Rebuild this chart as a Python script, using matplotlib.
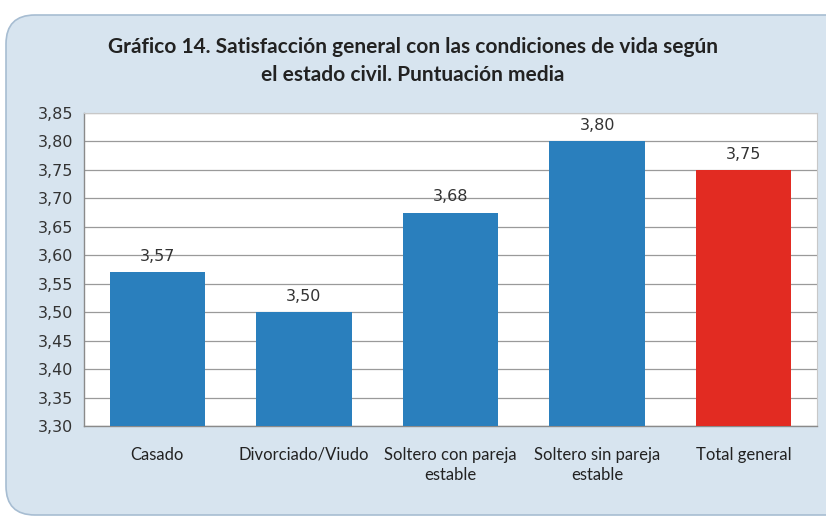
import matplotlib
matplotlib.use("Agg")
import matplotlib.pyplot as plt
from matplotlib.patches import FancyBboxPatch
from matplotlib.ticker import FuncFormatter

categories = ["Casado", "Divorciado/Viudo", "Soltero con pareja\nestable",
              "Soltero sin pareja\nestable", "Total general"]
values = [3.57, 3.50, 3.675, 3.80, 3.75]
labels = ["3,57", "3,50", "3,68", "3,80", "3,75"]
colors = ["#2a7fbd", "#2a7fbd", "#2a7fbd", "#2a7fbd", "#e22b22"]
yticks = [3.30, 3.35, 3.40, 3.45, 3.50, 3.55, 3.60, 3.65, 3.70, 3.75, 3.80, 3.85]

W, H = 826, 523
fig = plt.figure(figsize=(W / 100, H / 100), dpi=100)
fig.patch.set_facecolor("white")

panel = FancyBboxPatch((6 / W, 8 / H), (W + 40) / W, 500 / H,
                       boxstyle="round,pad=0,rounding_size=0.035",
                       transform=fig.transFigure, facecolor="#d7e4ef",
                       edgecolor="#a7bdd2", linewidth=1.2, zorder=-5,
                       mutation_aspect=W / H)
fig.patches.append(panel)

left, right, top, bottom = 84, 817, 113, 426
ax = fig.add_axes([left / W, 1 - bottom / H, (right - left) / W, (bottom - top) / H])
ax.set_zorder(5)
ax.set_facecolor("white")
x = range(len(categories))
bars = ax.bar(x, values, width=0.65, color=colors, zorder=3)
ax.set_ylim(3.30, 3.85)
ax.set_xlim(-0.5, len(categories) - 0.5)
ax.set_yticks(yticks)
ax.yaxis.set_major_formatter(FuncFormatter(lambda v, p: f"{v:.2f}".replace(".", ",")))
ax.grid(axis="y", color="#9a9a9a", linewidth=0.9, zorder=0)
ax.set_axisbelow(True)
ax.tick_params(axis="y", length=0, pad=8, labelsize=11.5, labelcolor="#333333")
ax.tick_params(axis="x", length=0, pad=15, labelsize=12, labelcolor="#222222")
ax.set_xticks(list(x))
ax.set_xticklabels(categories, fontfamily="Lato", linespacing=1.3)
for lab in ax.get_yticklabels():
    lab.set_fontfamily("DejaVu Sans")
for s in ["left", "bottom"]:
    ax.spines[s].set_color("#8a8a8a")
    ax.spines[s].set_linewidth(1.0)
for s in ["top", "right"]:
    ax.spines[s].set_color("#c8c8c8")
    ax.spines[s].set_linewidth(0.8)

for b, lab in zip(bars, labels):
    ax.annotate(lab, (b.get_x() + b.get_width() / 2, b.get_height()),
                xytext=(0, 6), textcoords="offset points", ha="center", va="bottom",
                fontsize=11.5, color="#333333", fontfamily="DejaVu Sans")

fig.text(0.5, 1 - 61 / H, "Gráfico 14. Satisfacción general con las condiciones de vida según\nel estado civil. Puntuación media",
         ha="center", va="center", fontsize=15, fontweight="bold", fontfamily="Lato",
         color="#222222", linespacing=1.45)

fig.savefig("out.png", dpi=100)
